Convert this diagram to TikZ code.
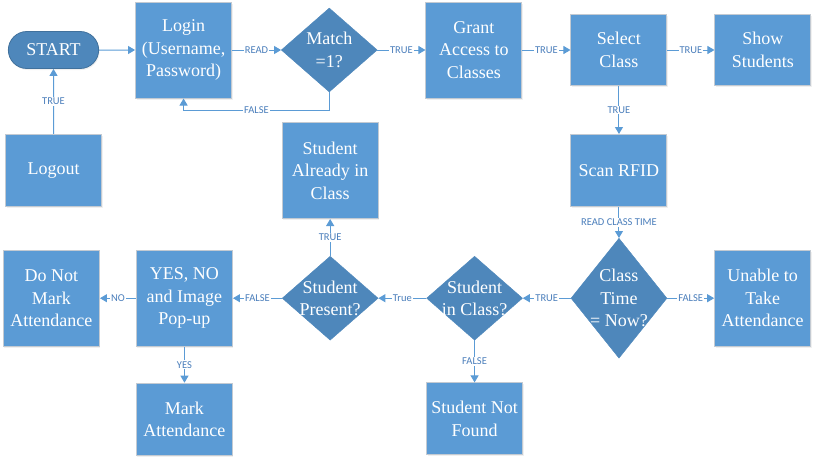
\documentclass[tikz,border=0pt]{standalone}
\usepackage{fontspec}
\setmainfont{Liberation Serif}
\newfontfamily\boxfont{Liberation Serif}
\newfontfamily\labelfont{Carlito}
\usetikzlibrary{arrows.meta,positioning,shapes.geometric,shapes.misc,shadows}
\definecolor{boxblue}{HTML}{5B9BD5}
\definecolor{decblue}{HTML}{4E87BB}
\definecolor{startedge}{HTML}{41719C}
\definecolor{boxedge}{HTML}{C3CAD2}
\definecolor{linkblue}{HTML}{5B9BD5}
\definecolor{textblue}{HTML}{4A7EBB}
\tikzset{
  procbox/.style={
    rectangle, draw=boxedge, fill=boxblue, line width=1pt,
    minimum width=96pt, minimum height=#1,
    drop shadow={opacity=0.12, shadow xshift=1pt, shadow yshift=-1.5pt},
    text=white, font=\boxfont\fontsize{18}{22.5}\selectfont, align=center,
    inner sep=2pt
  },
  procbox/.default=96pt,
  startbox/.style={
    rounded rectangle, draw=startedge, fill=decblue, line width=0.8pt,
    minimum width=97pt, minimum height=37pt,
    drop shadow={opacity=0.12, shadow xshift=1pt, shadow yshift=-1.5pt},
    text=white, font=\boxfont\fontsize{18}{22.5}\selectfont
  },
  decision/.style={
    diamond, draw=decblue, fill=decblue,
    minimum width=96pt, minimum height=#1, inner sep=0pt
  },
  decision/.default=84pt,
  dectext/.style={
    text=white, font=\boxfont\fontsize{18}{22.5}\selectfont, align=center
  },
  flow/.style={
    -{Triangle[length=7pt,width=8pt]}, line width=1pt, color=linkblue
  },
  flowlabel/.style={
    font=\labelfont\fontsize{10.5}{12}\selectfont, text=textblue,
    fill=white, inner sep=1pt
  },
}
\begin{document}
\begin{tikzpicture}
\useasboundingbox (0pt,0pt) rectangle (814pt,-456pt);
% top row
\node[startbox] (start) at (53.5pt,-50pt) {START};
\node[procbox, right=36pt of start] (login) {Login\\(Username,\\Password)};
\node[decision, right=49pt of login,
  label={[dectext]center:{Match\\=1?}}] (match) {};
\node[procbox, right=48pt of match] (grant) {Grant\\Access to\\Classes};
\node[procbox=71pt, right=48pt of grant] (select) {Select\\Class};
\node[procbox=71pt, right=47pt of select] (show) {Show\\Students};
% middle
\node[procbox=72pt, below=65pt of start] (logout) {Logout};
\node[procbox=72pt, below=48pt of select] (scan) {Scan RFID};
% bottom row
\node[decision=120pt, below=31pt of scan,
  label={[dectext]center:{Class\\Time\\= Now?}}] (classtime) {};
\node[procbox, right=47pt of classtime] (unable) {Unable to\\Take\\Attendance};
\node[decision, left=48pt of classtime,
  label={[dectext]center:{Student\\in Class?}}] (inclass) {};
\node[decision, left=48pt of inclass,
  label={[dectext]center:{Student\\Present?}}] (present) {};
\node[procbox, left=49pt of present] (popup) {YES, NO\\and Image\\Pop-up};
\node[procbox, left=36pt of popup] (donot) {Do Not\\Mark\\Attendance};
\node[procbox, above=37pt of present] (already) {Student\\Already in\\Class};
\node[procbox=72pt, below=36pt of popup] (mark) {Mark\\Attendance};
\node[procbox=72pt, below=42pt of inclass] (notfound) {Student Not\\Found};
% connectors
\draw[flow] (start) -- (login);
\draw[flow] (login) -- node[flowlabel] {READ} (match);
\draw[flow] (match) -- node[flowlabel] {TRUE} (grant);
\draw[flow] (grant) -- node[flowlabel] {TRUE} (select);
\draw[flow] (select) -- node[flowlabel] {TRUE} (show);
\draw[flow] (match.south) -- ++(0,-18pt)
  -| node[flowlabel, pos=0.25] {FALSE} (login.south);
\draw[flow] (logout) -- node[flowlabel] {TRUE} (start);
\draw[flow] (select) -- node[flowlabel] {TRUE} (scan);
\draw[flow] (scan) -- node[flowlabel] {READ CLASS TIME} (classtime);
\draw[flow] (classtime) -- node[flowlabel] {FALSE} (unable);
\draw[flow] (classtime) -- node[flowlabel] {TRUE} (inclass);
\draw[flow] (inclass) -- node[flowlabel] {True} (present);
\draw[flow] (inclass) -- node[flowlabel] {FALSE} (notfound);
\draw[flow] (present) -- node[flowlabel] {TRUE} (already);
\draw[flow] (present) -- node[flowlabel] {FALSE} (popup);
\draw[flow] (popup) -- node[flowlabel] {NO} (donot);
\draw[flow] (popup) -- node[flowlabel] {YES} (mark);
\end{tikzpicture}
\end{document}
